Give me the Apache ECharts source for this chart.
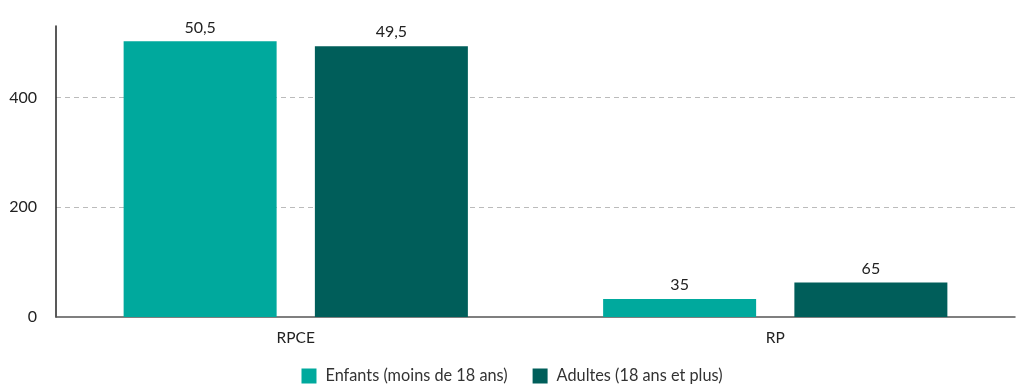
<!DOCTYPE html>
<html><head><meta charset="utf-8">
<script src="https://cdn.jsdelivr.net/npm/echarts@6/dist/echarts.min.js"></script>
<style>html,body{margin:0;padding:0;background:#fff}#c{width:1024px;height:390px}</style>
</head><body><div id="c"></div>
<script>
var categories = ['RPCE', 'RP'];
var seriesNames = ['Enfants (moins de 18 ans)', 'Adultes (18 ans et plus)'];
var enfantsValues = [502, 33];
var adultesValues = [493, 63];
var enfantsLabels = ['50,5', '35'];
var adultesLabels = ['49,5', '65'];
var colors = ['#00A99D', '#005E5A'];

var chart = echarts.init(document.getElementById('c'));
function mk(name, vals, labels, color) {
  return {
    name: name, type: 'bar', data: vals, barWidth: 153, barGap: '25%',
    itemStyle: { color: color },
    label: { show: true, position: 'top', distance: 6, color: '#222', fontFamily: 'Lato', fontSize: 16,
      formatter: function (p) { return labels[p.dataIndex]; } }
  };
}
chart.setOption({
  animation: false,
  textStyle: { fontFamily: 'Lato' },
  grid: { left: 56, right: 9, top: 26, bottom: 73 },
  legend: {
    bottom: 1, left: 'center', itemWidth: 15, itemHeight: 15, itemGap: 25,
    icon: 'rect',
    textStyle: { fontFamily: 'Lato', fontSize: 16.3, color: '#333', padding: [0, 0, 0, 4] },
    data: seriesNames
  },
  xAxis: {
    type: 'category', data: categories,
    axisLine: { lineStyle: { color: '#555', width: 1.5 } },
    axisTick: { show: false },
    axisLabel: { color: '#222', fontFamily: 'Lato', fontSize: 15.5, margin: 13 }
  },
  yAxis: {
    type: 'value', min: 0, max: 530, interval: 200,
    axisLine: { show: true, lineStyle: { color: '#222', width: 1.5 } },
    axisTick: { show: false },
    axisLabel: { showMaxLabel: false, color: '#222', fontFamily: 'Lato', fontSize: 16, margin: 19 },
    splitLine: { showMinLine: false, showMaxLine: false, lineStyle: { color: '#bbb', type: [5, 4] } }
  },
  series: [
    mk(seriesNames[0], enfantsValues, enfantsLabels, colors[0]),
    mk(seriesNames[1], adultesValues, adultesLabels, colors[1])
  ]
});
</script></body></html>
